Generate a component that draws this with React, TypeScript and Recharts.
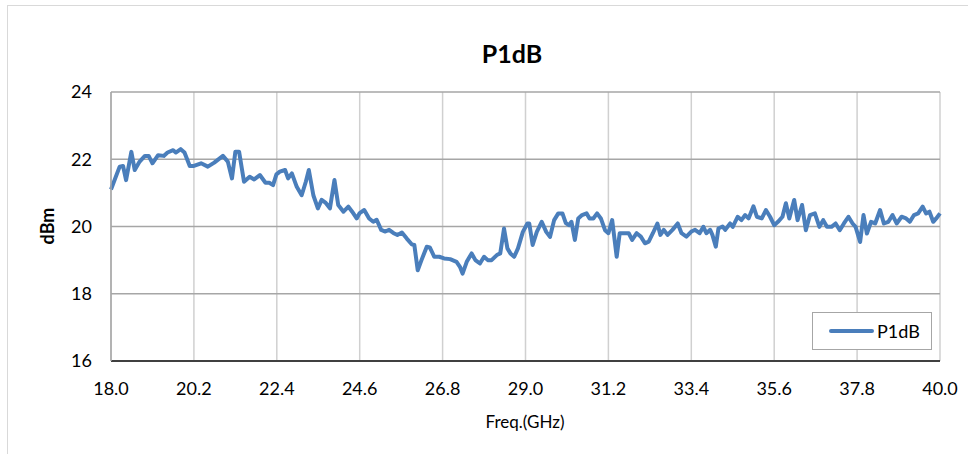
import React from 'react';
import { LineChart, Line, XAxis, YAxis, CartesianGrid, Legend } from 'recharts';

// frequency (GHz) of each sample
const freqs = [
  18.0, 18.23, 18.32, 18.4, 18.54, 18.63, 18.76, 18.9, 19.0, 19.1, 19.25, 19.4, 19.5, 19.65, 19.72, 19.85, 19.95,
  20.09, 20.2, 20.39, 20.57, 20.74, 20.97, 21.1, 21.21, 21.3, 21.4, 21.53, 21.68, 21.8, 21.95, 22.1, 22.2, 22.3,
  22.39, 22.48, 22.62, 22.7, 22.8, 22.93, 23.06, 23.17, 23.25, 23.37, 23.49, 23.59, 23.7, 23.81, 23.93, 24.03,
  24.17, 24.3, 24.4, 24.52, 24.6, 24.72, 24.85, 24.96, 25.05, 25.17, 25.28, 25.38, 25.5, 25.6, 25.72, 25.85,
  25.98, 26.05, 26.14, 26.24, 26.38, 26.46, 26.58, 26.71, 26.84, 27.0, 27.17, 27.26, 27.33, 27.44, 27.57, 27.67,
  27.79, 27.9, 28.0, 28.1, 28.24, 28.33, 28.43, 28.52, 28.6, 28.7, 28.8, 28.93, 29.05, 29.1, 29.19, 29.3, 29.43,
  29.55, 29.65, 29.76, 29.87, 29.98, 30.07, 30.15, 30.22, 30.31, 30.4, 30.5, 30.62, 30.7, 30.8, 30.9, 31.0,
  31.11, 31.2, 31.3, 31.42, 31.5, 31.63, 31.74, 31.83, 31.95, 32.06, 32.17, 32.27, 32.38, 32.5, 32.58, 32.67,
  32.77, 32.9, 33.04, 33.14, 33.27, 33.4, 33.5, 33.62, 33.72, 33.8, 33.9, 33.96, 34.05, 34.12, 34.23, 34.3,
  34.43, 34.5, 34.63, 34.73, 34.83, 34.92, 35.05, 35.14, 35.27, 35.38, 35.49, 35.6, 35.7, 35.82, 35.91, 36.0,
  36.13, 36.22, 36.34, 36.44, 36.55, 36.68, 36.8, 36.9, 37.0, 37.12, 37.23, 37.34, 37.45, 37.57, 37.68, 37.76,
  37.88, 37.97, 38.06, 38.17, 38.28, 38.41, 38.51, 38.63, 38.74, 38.85, 38.98, 39.1, 39.2, 39.31, 39.42, 39.54,
  39.63, 39.72, 39.82, 39.9, 40.0,
];

// P1dB (dBm)
const p1db = [
  21.1, 21.78, 21.8, 21.38, 22.22, 21.68, 21.93, 22.1, 22.1, 21.88, 22.12, 22.1, 22.2, 22.27, 22.2, 22.3, 22.2,
  21.8, 21.8, 21.88, 21.78, 21.9, 22.1, 21.93, 21.43, 22.22, 22.22, 21.33, 21.48, 21.4, 21.53, 21.3, 21.3, 21.23,
  21.55, 21.63, 21.68, 21.43, 21.58, 21.18, 20.93, 21.33, 21.68, 20.93, 20.54, 20.79, 20.7, 20.54, 21.38, 20.64,
  20.44, 20.59, 20.44, 20.24, 20.4, 20.49, 20.24, 20.14, 20.2, 19.9, 19.85, 19.9, 19.8, 19.75, 19.82, 19.64,
  19.47, 19.45, 18.7, 19.0, 19.4, 19.38, 19.1, 19.1, 19.05, 19.03, 18.95, 18.8, 18.6, 18.95, 19.2, 19.0,
  18.9, 19.1, 19.0, 19.0, 19.15, 19.2, 19.94, 19.35, 19.2, 19.1, 19.35, 19.84, 20.09, 20.09, 19.45, 19.84, 20.14,
  19.84, 19.69, 20.19, 20.39, 20.39, 20.1, 20.04, 20.14, 19.6, 20.24, 20.34, 20.39, 20.24, 20.24, 20.39, 20.24,
  19.89, 19.8, 20.19, 19.1, 19.8, 19.8, 19.8, 19.6, 19.8, 19.7, 19.5, 19.55, 19.8, 20.09, 19.75, 19.9,
  19.75, 19.9, 20.09, 19.8, 19.7, 19.85, 19.9, 19.8, 19.99, 19.8, 19.9, 19.75, 19.4, 19.94, 20.0, 19.9,
  20.09, 19.99, 20.29, 20.19, 20.34, 20.24, 20.6, 20.29, 20.24, 20.49, 20.29, 20.04, 20.14, 20.29, 20.69, 20.24,
  20.79, 20.19, 20.64, 19.89, 20.34, 20.39, 19.99, 20.19, 19.99, 19.99, 20.09, 19.89, 20.09, 20.29, 20.09, 19.99,
  19.54, 20.34, 19.79, 20.14, 20.09, 20.49, 20.09, 20.14, 20.34, 20.09, 20.29, 20.24, 20.14, 20.34, 20.39, 20.59,
  20.39, 20.44, 20.14, 20.24, 20.39,
];

const xTicks = [18, 20.2, 22.4, 24.6, 26.8, 29, 31.2, 33.4, 35.6, 37.8, 40];
const yTicks = [16, 18, 20, 22, 24];

const data = freqs.map((f, i) => ({ freq: f, p1db: p1db[i] }));

const FONT = 'Lato, "Noto Sans", sans-serif';

const LegendBox = () => (
  <div
    style={{
      width: 120,
      height: 38,
      boxSizing: 'border-box',
      border: '1px solid #a6a6a6',
      background: '#fff',
      display: 'flex',
      alignItems: 'center',
      fontFamily: FONT,
      fontSize: 18,
      color: '#000',
    }}
  >
    <div style={{ width: 45, height: 4, background: '#4A7EBB', marginLeft: 16, borderRadius: 2 }} />
    <span style={{ marginLeft: 3 }}>P1dB</span>
  </div>
);

const App: React.FC = () => {
  return (
    <div style={{ position: 'absolute', left: 0, top: 0, width: 968, height: 454, background: '#fff', overflow: 'hidden' }}>
      <div style={{ position: 'absolute', left: 7, top: 5, width: 980, height: 470, border: '1px solid #d9d9d9' }} />
      <div
        style={{
          position: 'absolute',
          left: 512,
          top: 53,
          transform: 'translate(-50%, -50%)',
          fontFamily: FONT,
          fontWeight: 700,
          fontSize: 25,
          color: '#000',
          whiteSpace: 'nowrap',
        }}
      >
        P1dB
      </div>
      <div
        style={{
          position: 'absolute',
          left: 47,
          top: 226,
          transform: 'translate(-50%, -50%) rotate(-90deg)',
          fontFamily: FONT,
          fontWeight: 700,
          fontSize: 18,
          color: '#000',
        }}
      >
        dBm
      </div>
      <div
        style={{
          position: 'absolute',
          left: 525,
          top: 421,
          transform: 'translate(-50%, -50%)',
          fontFamily: FONT,
          fontSize: 17,
          color: '#000',
          whiteSpace: 'nowrap',
        }}
      >
        Freq.(GHz)
      </div>
      <div style={{ position: 'absolute', left: 0, top: 0 }}>
        <LineChart width={968} height={454} data={data} margin={{ top: 92, right: 28, bottom: 25, left: 31 }}>
          <CartesianGrid horizontal={false} stroke="#d0d0d0" strokeWidth={1.5} />
          <CartesianGrid vertical={false} stroke="#a6a6a6" strokeWidth={1.5} />
          <XAxis
            dataKey="freq"
            type="number"
            domain={[18, 40]}
            ticks={xTicks}
            interval={0}
            height={68}
            tickFormatter={(v: number) => v.toFixed(1)}
            tickLine={false}
            tickSize={6}
            tickMargin={15}
            axisLine={{ stroke: '#404040', strokeWidth: 2 }}
            tick={{ fontFamily: FONT, fontSize: 18, fill: '#000' }}
          />
          <YAxis
            type="number"
            domain={[16, 24]}
            ticks={yTicks}
            interval={0}
            width={80}
            tickLine={false}
            tickSize={6}
            tickMargin={13}
            axisLine={{ stroke: '#a6a6a6', strokeWidth: 1.5 }}
            tick={{ fontFamily: FONT, fontSize: 18, fill: '#000' }}
          />
          <Legend
            layout="horizontal"
            verticalAlign="middle"
            align="center"
            content={() => <LegendBox />}
            wrapperStyle={{ position: 'absolute', left: 812, top: 312, width: 120, height: 38 }}
          />
          <Line
            type="linear"
            dataKey="p1db"
            name="P1dB"
            stroke="#4A7EBB"
            strokeWidth={4}
            strokeLinejoin="round"
            dot={false}
            activeDot={false}
            isAnimationActive={false}
          />
        </LineChart>
      </div>
    </div>
  );
};

export default App;
